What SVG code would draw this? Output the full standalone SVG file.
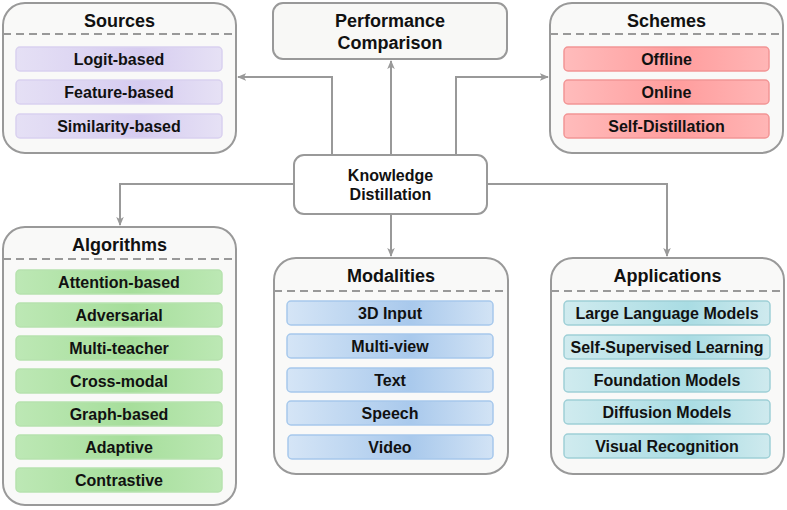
<svg xmlns="http://www.w3.org/2000/svg" width="787" height="510" viewBox="0 0 787 510">
<defs>
<linearGradient id="gP" x1="0" y1="0" x2="1" y2="0">
<stop offset="0" stop-color="#e5e0f5"/><stop offset="0.6" stop-color="#d6ccf0"/><stop offset="1" stop-color="#e6e1f5"/>
</linearGradient>
<linearGradient id="gR" x1="0" y1="0" x2="1" y2="0">
<stop offset="0" stop-color="#ffbcbc"/><stop offset="0.55" stop-color="#ff9d9d"/><stop offset="1" stop-color="#ffb6b6"/>
</linearGradient>
<linearGradient id="gG" x1="0" y1="0" x2="1" y2="0">
<stop offset="0" stop-color="#bde8b5"/><stop offset="0.55" stop-color="#a6de9b"/><stop offset="1" stop-color="#bce8b4"/>
</linearGradient>
<linearGradient id="gB" x1="0" y1="0" x2="1" y2="0">
<stop offset="0" stop-color="#d5e5f6"/><stop offset="0.6" stop-color="#a9c9ec"/><stop offset="1" stop-color="#d2e3f5"/>
</linearGradient>
<linearGradient id="gT" x1="0" y1="0" x2="1" y2="0">
<stop offset="0" stop-color="#d0ebef"/><stop offset="0.6" stop-color="#a9dce3"/><stop offset="1" stop-color="#cfeaee"/>
</linearGradient>
<marker id="arr" viewBox="0 0 10 10" refX="9" refY="5" markerWidth="9" markerHeight="9" markerUnits="userSpaceOnUse" orient="auto">
<path d="M0,0.8 L10,5 L0,9.2 L2.5,5 Z" fill="#999"/>
</marker>
<style>
.box{fill:#f9f9f8;stroke:#999;stroke-width:2}
.plain{fill:#f8f8f6;stroke:#999;stroke-width:2}
.kd{fill:#ffffff;stroke:#999;stroke-width:2}
.dash{stroke:#999;stroke-width:2;stroke-dasharray:8 5;fill:none}
.title{font-family:"Liberation Sans",Arial,sans-serif;font-weight:bold;font-size:18px;fill:#111;text-anchor:middle}
.item{font-family:"Liberation Sans",Arial,sans-serif;font-weight:bold;font-size:16px;fill:#111;text-anchor:middle}
.kdt{font-family:"Liberation Sans",Arial,sans-serif;font-weight:bold;font-size:16px;fill:#111;text-anchor:middle}
.p{fill:url(#gP);stroke:#d9d1ef;stroke-width:1.5}
.r{fill:url(#gR);stroke:#f29595;stroke-width:1.5}
.g{fill:url(#gG);stroke:#b6e2ae;stroke-width:1.5}
.b{fill:url(#gB);stroke:#a6c8ec;stroke-width:1.5}
.t{fill:url(#gT);stroke:#9ecfd6;stroke-width:1.5}
.conn{fill:none;stroke:#999;stroke-width:2;marker-end:url(#arr)}
</style>
</defs>

<g id="connectors">
<path class="conn" d="M332,155 V77 H238"/>
<path class="conn" d="M391,155 V61"/>
<path class="conn" d="M456,155 V77 H548"/>
<path class="conn" d="M294,184 H120 V225"/>
<path class="conn" d="M391,214 V256"/>
<path class="conn" d="M487,184 H667 V256"/>
</g>

<g id="sources">
<rect class="box" x="3" y="3" width="233" height="150" rx="22"/>
<text class="title" x="119.5" y="27">Sources</text>
<line class="dash" x1="3" y1="34" x2="236" y2="34"/>
<rect class="p" x="16" y="47" width="206" height="24" rx="4"/>
<text class="item" x="119" y="65">Logit-based</text>
<rect class="p" x="16" y="80" width="206" height="24" rx="4"/>
<text class="item" x="119" y="98">Feature-based</text>
<rect class="p" x="16" y="114" width="206" height="24" rx="4"/>
<text class="item" x="119" y="132">Similarity-based</text>
</g>

<g id="performance">
<rect class="plain" x="273" y="3" width="234" height="56" rx="10"/>
<text class="title" x="390" y="27">Performance</text>
<text class="title" x="390" y="49">Comparison</text>
</g>

<g id="schemes">
<rect class="box" x="550" y="3" width="233" height="150" rx="22"/>
<text class="title" x="666.5" y="27">Schemes</text>
<line class="dash" x1="550" y1="34" x2="783" y2="34"/>
<rect class="r" x="564" y="47" width="205" height="24" rx="4"/>
<text class="item" x="666.5" y="65">Offline</text>
<rect class="r" x="564" y="80" width="205" height="24" rx="4"/>
<text class="item" x="666.5" y="98">Online</text>
<rect class="r" x="564" y="114" width="205" height="24" rx="4"/>
<text class="item" x="666.5" y="132">Self-Distillation</text>
</g>

<g id="kd">
<rect class="kd" x="294" y="155" width="193" height="59" rx="10"/>
<text class="kdt" x="390.5" y="180.5">Knowledge</text>
<text class="kdt" x="390.5" y="199.5">Distillation</text>
</g>

<g id="algorithms">
<rect class="box" x="3" y="227" width="233" height="278" rx="22"/>
<text class="title" x="119.5" y="250.5">Algorithms</text>
<line class="dash" x1="3" y1="259" x2="236" y2="259"/>
<rect class="g" x="16" y="270" width="206" height="24" rx="4"/>
<text class="item" x="119" y="288">Attention-based</text>
<rect class="g" x="16" y="303" width="206" height="24" rx="4"/>
<text class="item" x="119" y="321">Adversarial</text>
<rect class="g" x="16" y="336" width="206" height="24" rx="4"/>
<text class="item" x="119" y="354">Multi-teacher</text>
<rect class="g" x="16" y="369" width="206" height="24" rx="4"/>
<text class="item" x="119" y="387">Cross-modal</text>
<rect class="g" x="16" y="402" width="206" height="24" rx="4"/>
<text class="item" x="119" y="420">Graph-based</text>
<rect class="g" x="16" y="435" width="206" height="24" rx="4"/>
<text class="item" x="119" y="453">Adaptive</text>
<rect class="g" x="16" y="468" width="206" height="24" rx="4"/>
<text class="item" x="119" y="486">Contrastive</text>
</g>

<g id="modalities">
<rect class="box" x="274" y="258" width="234" height="216" rx="22"/>
<text class="title" x="391" y="281.5">Modalities</text>
<line class="dash" x1="274" y1="291" x2="508" y2="291"/>
<rect class="b" x="287" y="301" width="206" height="24" rx="4"/>
<text class="item" x="390" y="319">3D Input</text>
<rect class="b" x="287" y="334" width="206" height="24" rx="4"/>
<text class="item" x="390" y="352">Multi-view</text>
<rect class="b" x="287" y="368" width="206" height="24" rx="4"/>
<text class="item" x="390" y="386">Text</text>
<rect class="b" x="287" y="401" width="206" height="24" rx="4"/>
<text class="item" x="390" y="419">Speech</text>
<rect class="b" x="288" y="435" width="205" height="24" rx="4"/>
<text class="item" x="390" y="453">Video</text>
</g>

<g id="applications">
<rect class="box" x="551" y="258" width="233" height="216" rx="22"/>
<text class="title" x="667.5" y="281.5">Applications</text>
<line class="dash" x1="551" y1="291" x2="784" y2="291"/>
<rect class="t" x="564" y="301" width="206" height="24" rx="4"/>
<text class="item" x="667" y="319">Large Language Models</text>
<rect class="t" x="564" y="335" width="206" height="24" rx="4"/>
<text class="item" x="667" y="353">Self-Supervised Learning</text>
<rect class="t" x="564" y="368" width="206" height="24" rx="4"/>
<text class="item" x="667" y="386">Foundation Models</text>
<rect class="t" x="564" y="400" width="206" height="24" rx="4"/>
<text class="item" x="667" y="418">Diffusion Models</text>
<rect class="t" x="564" y="434" width="206" height="24" rx="4"/>
<text class="item" x="667" y="452">Visual Recognition</text>
</g>
</svg>
